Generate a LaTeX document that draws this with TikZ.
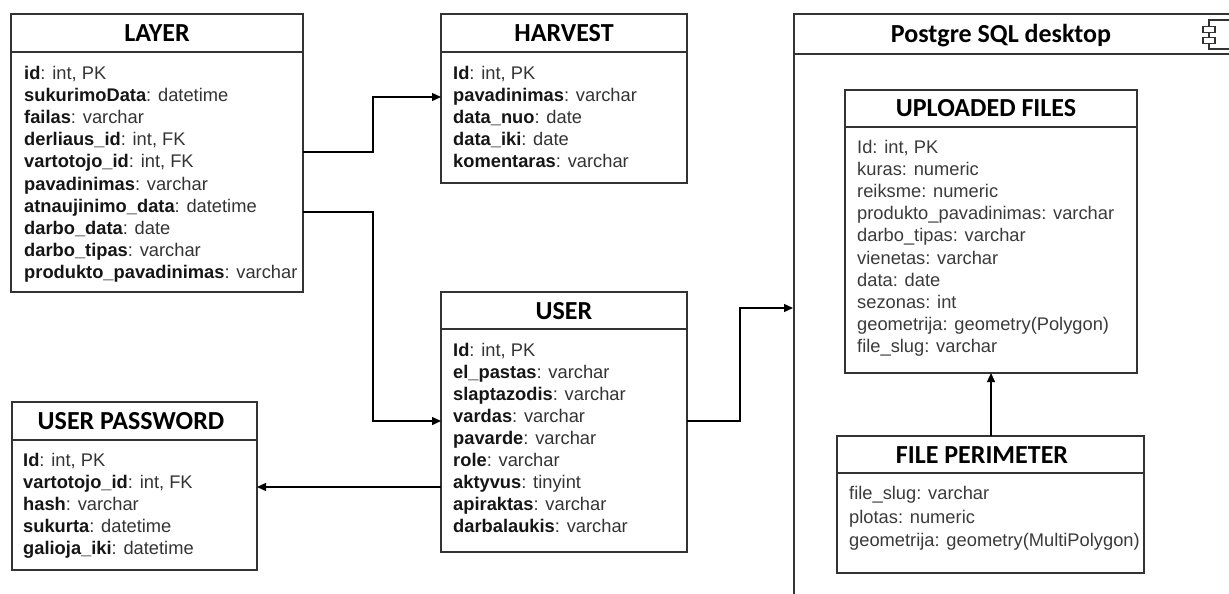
\documentclass[tikz,border=0pt]{standalone}
\usepackage{fontspec}
\setmainfont{Liberation Sans}
\newfontfamily\titlefont{Carlito}
\usetikzlibrary{arrows.meta}
\definecolor{boxc}{HTML}{333333}
\definecolor{typec}{HTML}{333333}
\definecolor{namec}{HTML}{151515}
\definecolor{plainc}{HTML}{3A3A3A}
\tikzset{
  tbl/.style={draw=boxc, line width=1.4pt, rectangle, inner sep=0pt, outer sep=0pt, anchor=north west},
  hline/.style={draw=boxc, line width=1.4pt},
  ttl/.style={font=\titlefont\bfseries\fontsize{26}{30}\selectfont, inner sep=0pt, text=black, anchor=base},
  fld/.style={font=\fontsize{18.3}{22}\selectfont, inner sep=0pt, anchor=base west, text=typec},
  pfld/.style={fld, text=plainc},
  conn/.style={draw=black, line width=1.4pt},
  arr/.style={conn, -{Triangle[length=9pt,width=8pt]}},
  icon/.style={draw=boxc, line width=1.3pt},
}
\newcommand\tblfields[5]{%
  \foreach \a/\b [count=\i] in {#5} {
    \node[fld] (#1\i) at (#2, {#3+(\i-1)*#4}) {{\color{namec}\bfseries\a}: \b};
  }}
\newcommand\plainfields[5]{%
  \foreach \a [count=\i] in {#5} {
    \node[pfld] (#1\i) at (#2, {#3+(\i-1)*#4}) {\a};
  }}
\begin{document}
\begin{tikzpicture}[x=1pt,y=-1pt]
\useasboundingbox (0,0) rectangle (1229,594);

% ---------- LAYER ----------
\node[tbl, minimum width=292pt, minimum height=278pt] (layer) at (11,14) {};
\draw[hline] (11,52) -- (303,52);
\node[ttl] (layerT) at (157,41.5) {LAYER};
\tblfields{L}{24}{79.5}{22.1}{id/{int, PK}, sukurimoData/datetime, failas/varchar, derliaus\_id/{int, FK}, vartotojo\_id/{int, FK}, pavadinimas/varchar, atnaujinimo\_data/datetime, darbo\_data/date, darbo\_tipas/varchar, produkto\_pavadinimas/varchar}

% ---------- HARVEST ----------
\node[tbl, minimum width=246pt, minimum height=169pt] (harvest) at (441,14) {};
\draw[hline] (441,52) -- (687,52);
\node[ttl] (harvestT) at (564,41.5) {HARVEST};
\tblfields{H}{453}{79.5}{22.1}{Id/{int, PK}, pavadinimas/varchar, data\_nuo/date, data\_iki/date, komentaras/varchar}

% ---------- USER ----------
\node[tbl, minimum width=246pt, minimum height=260pt] (user) at (441,292) {};
\draw[hline] (441,329) -- (687,329);
\node[ttl] (userT) at (564,319) {USER};
\tblfields{U}{453}{356.5}{22}{Id/{int, PK}, el\_pastas/varchar, slaptazodis/varchar, vardas/varchar, pavarde/varchar, role/varchar, aktyvus/tinyint, apiraktas/varchar, darbalaukis/varchar}

% ---------- USER PASSWORD ----------
\node[tbl, minimum width=245pt, minimum height=168pt] (pwd) at (12,402) {};
\draw[hline] (12,440) -- (257,440);
\node[ttl] (pwdT) at (131,429.5) {USER PASSWORD};
\tblfields{P}{23}{466.5}{22}{Id/{int, PK}, vartotojo\_id/{int, FK}, hash/varchar, sukurta/datetime, galioja\_iki/datetime}

% ---------- Postgre container ----------
\begin{scope}
\clip (0,0) rectangle (1229,594);
\draw[hline] (1240,14) -- (794,14) -- (794,600);
\draw[hline] (794,54) -- (1240,54);
\draw[icon] (1240,20) -- (1209,20) -- (1209,49) -- (1240,49);
\end{scope}
\node[ttl] (pgT) at (1001,42.5) {Postgre SQL desktop};
\draw[icon, fill=white] (1203,26.7) rectangle (1215,32.7);
\draw[icon, fill=white] (1203,37.3) rectangle (1215,43.3);

% ---------- UPLOADED FILES ----------
\node[tbl, minimum width=292pt, minimum height=283pt] (upl) at (845,90) {};
\draw[hline] (845,127) -- (1137,127);
\node[ttl] (uplT) at (986,117) {UPLOADED FILES};
\plainfields{F}{857}{153.5}{22.1}{Id: int{,} PK, kuras: numeric, reiksme: numeric, produkto\_pavadinimas: varchar, darbo\_tipas: varchar, vienetas: varchar, data: date, sezonas: int, geometrija: geometry(Polygon), file\_slug: varchar}

% ---------- FILE PERIMETER ----------
\node[tbl, minimum width=307pt, minimum height=137pt] (per) at (837,436) {};
\draw[hline] (837,473) -- (1144,473);
\node[ttl] (perT) at (982,463) {FILE PERIMETER};
\plainfields{R}{849}{499.5}{23.5}{file\_slug: varchar, plotas: numeric, geometrija: geometry(MultiPolygon)}

% ---------- connectors ----------
\coordinate (pgLeft) at (793,308);
\draw[arr] (layer.east |- 0,152) -- (373,152) -- (373,97) -- (harvest.west |- 0,97);
\draw[arr] (layer.east |- 0,212) -- (373,212) -- (373,421) -- (user.west |- 0,421);
\draw[arr] (user.east |- 0,421) -- (740,421) -- (740,308) -- (pgLeft);
\draw[arr] (user.west |- 0,487) -- (pwd.east |- 0,487);
\draw[arr] (per.north -| 991,0) -- (upl.south -| 991,0);
\end{tikzpicture}
\end{document}
